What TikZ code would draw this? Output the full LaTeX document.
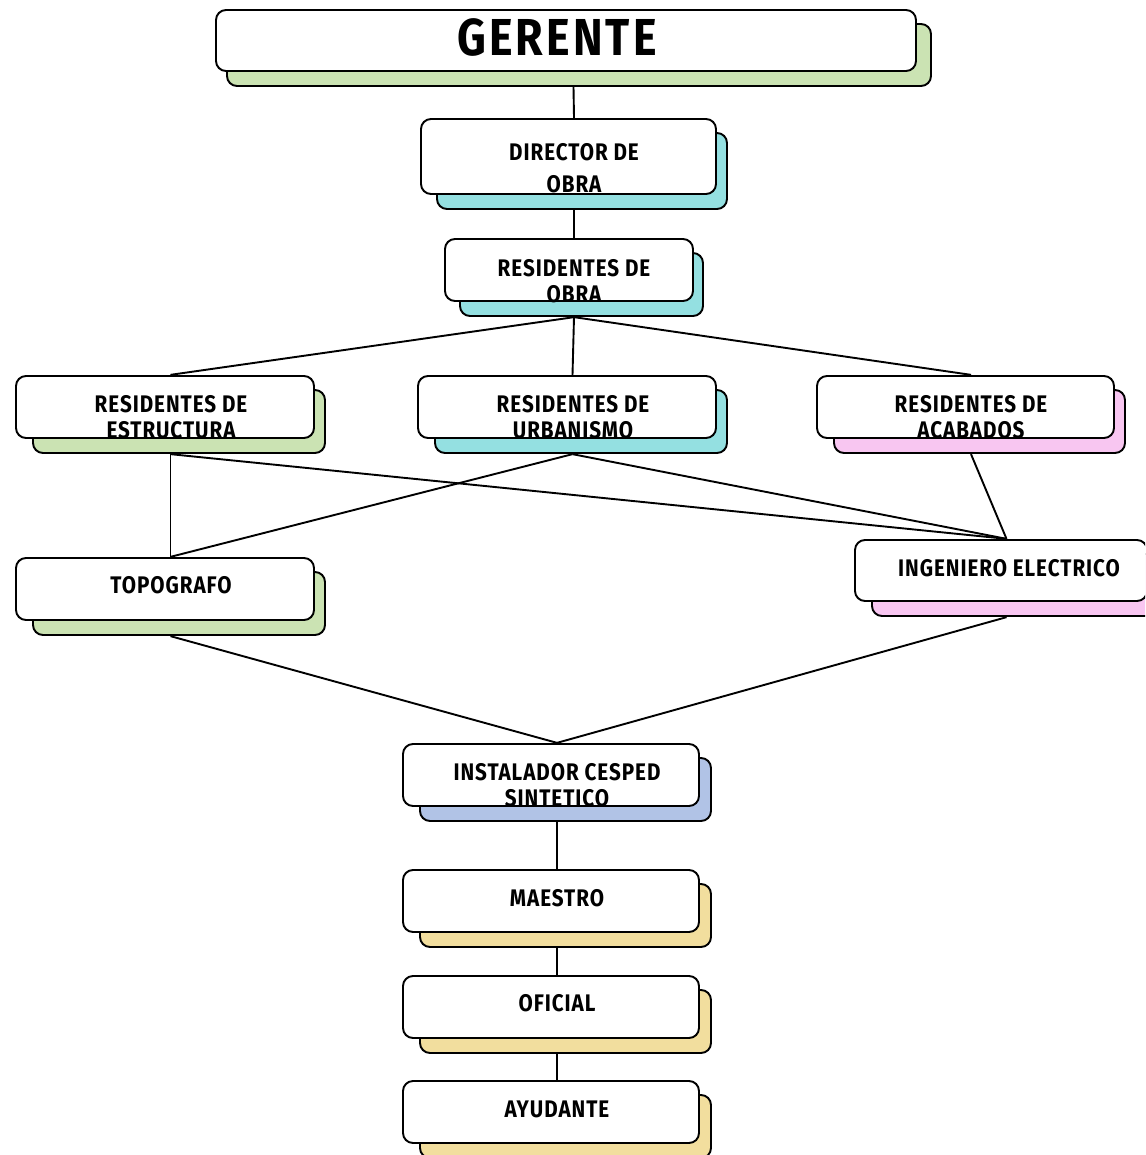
\documentclass[tikz,border=0pt]{standalone}
\usepackage{fontspec}
\usetikzlibrary{fit}
\newfontfamily\handfont[FakeStretch=0.86, LetterSpace=4]{Fira Sans}
\newfontfamily\titlefont[FakeStretch=0.86, LetterSpace=6]{Fira Sans}
\definecolor{cgreen}{HTML}{CBE3B3}
\definecolor{ccyan}{HTML}{94E0E1}
\definecolor{cpink}{HTML}{F8C6F1}
\definecolor{cblue}{HTML}{B1C3E6}
\definecolor{cyellow}{HTML}{F2DE9E}
\tikzset{
  cardbox/.style={draw=black, line width=1.9pt, rounded corners=10pt, inner sep=0pt},
  cardshadow/.style={cardbox},
  cardfront/.style={cardbox, fill=white},
  cardgroup/.style={inner sep=0pt, draw=none},
  lbl/.style={font=\handfont\bfseries\fontsize{24}{26}\selectfont, align=center, inner sep=0pt},
  link/.style={draw=black, line width=1.9pt},
}
% #1 name, #2..#5 front box corners (x1,y1,x2,y2), #6 shadow colour,
% #7 left inset and #8 right overhang of the shadow card
\newcommand\orgcard[8]{%
  \node[cardshadow, fill=#6, minimum width={(#4+#8-#2-#7)*1pt}, minimum height={(#5-#3+1)*1pt}]
    (#1-s) at ({(#2+#7+#4+#8)/2}, {(#3+#5)/2+14.5}) {};
  \node[cardfront, minimum width={(#4-#2)*1pt}, minimum height={(#5-#3)*1pt}]
    (#1-f) at ({(#2+#4)/2}, {(#3+#5)/2}) {};
  \node[cardgroup, fit=(#1-f)(#1-s)] (#1) {};
}
\begin{document}
\begin{tikzpicture}[x=1pt, y=-1pt]
\useasboundingbox (0,0) rectangle (1145,1155);
\clip (0,0) rectangle (1145,1155);

% cards
\orgcard{ger}{216}{10}{916}{71}{cgreen}{11}{15}
\orgcard{dir}{421}{119}{716}{194}{ccyan}{16}{11}
\orgcard{rob}{445}{239}{693}{301}{ccyan}{15}{10}
\orgcard{est}{16}{376}{314}{438}{cgreen}{17}{11}
\orgcard{urb}{418}{376}{716}{438}{ccyan}{17}{11}
\orgcard{aca}{817}{376}{1114}{438}{cpink}{17}{11}
\orgcard{top}{16}{558}{314}{620}{cgreen}{17}{11}
\orgcard{ing}{855}{540}{1147}{601}{cpink}{17}{11}
\orgcard{ins}{403}{744}{699}{806}{cblue}{17}{12}
\orgcard{mae}{403}{870}{699}{932}{cyellow}{17}{12}
\orgcard{ofi}{403}{976}{699}{1038}{cyellow}{17}{12}
\orgcard{ayu}{403}{1081}{699}{1143}{cyellow}{17}{12}

% labels
\node[lbl, font=\titlefont\bfseries\fontsize{52}{52}\selectfont] (ger-t) at (557,37) {GERENTE};
\node[lbl, font=\handfont\bfseries\fontsize{24}{32}\selectfont] (dir-t) at (574,168) {DIRECTOR DE\\OBRA};
\node[lbl] (rob-t) at (574,281) {RESIDENTES DE\\OBRA};
\node[lbl] (est-t) at (171,417) {RESIDENTES DE\\ESTRUCTURA};
\node[lbl] (urb-t) at (573,417) {RESIDENTES DE\\URBANISMO};
\node[lbl] (aca-t) at (971,417) {RESIDENTES DE\\ACABADOS};
\node[lbl] (top-t) at (171,585) {TOPOGRAFO};
\node[lbl] (ing-t) at (1009,568) {INGENIERO ELECTRICO};
\node[lbl] (ins-t) at (557,785) {INSTALADOR CESPED\\SINTETICO};
\node[lbl] (mae-t) at (557,898) {MAESTRO};
\node[lbl] (ofi-t) at (557,1003) {OFICIAL};
\node[lbl] (ayu-t) at (557,1109) {AYUDANTE};

% connectors
\draw[link] (ger.south) -- (dir.north);
\draw[link] (dir.south) -- (rob.north);
\draw[link] (rob.south) -- (est.north);
\draw[link] (rob.south) -- (urb.north);
\draw[link] (rob.south) -- (aca.north);
\draw[link] (est.south) -- (top.north);
\draw[link] (est.south) -- (ing.north);
\draw[link] (urb.south) -- (top.north);
\draw[link] (urb.south) -- (ing.north);
\draw[link] (aca.south) -- (ing.north);
\draw[link] (top.south) -- (ins.north);
\draw[link] (ing.south) -- (ins.north);
\draw[link] (ins.south) -- (mae.north);
\draw[link] (mae.south) -- (ofi.north);
\draw[link] (ofi.south) -- (ayu.north);
\end{tikzpicture}
\end{document}
